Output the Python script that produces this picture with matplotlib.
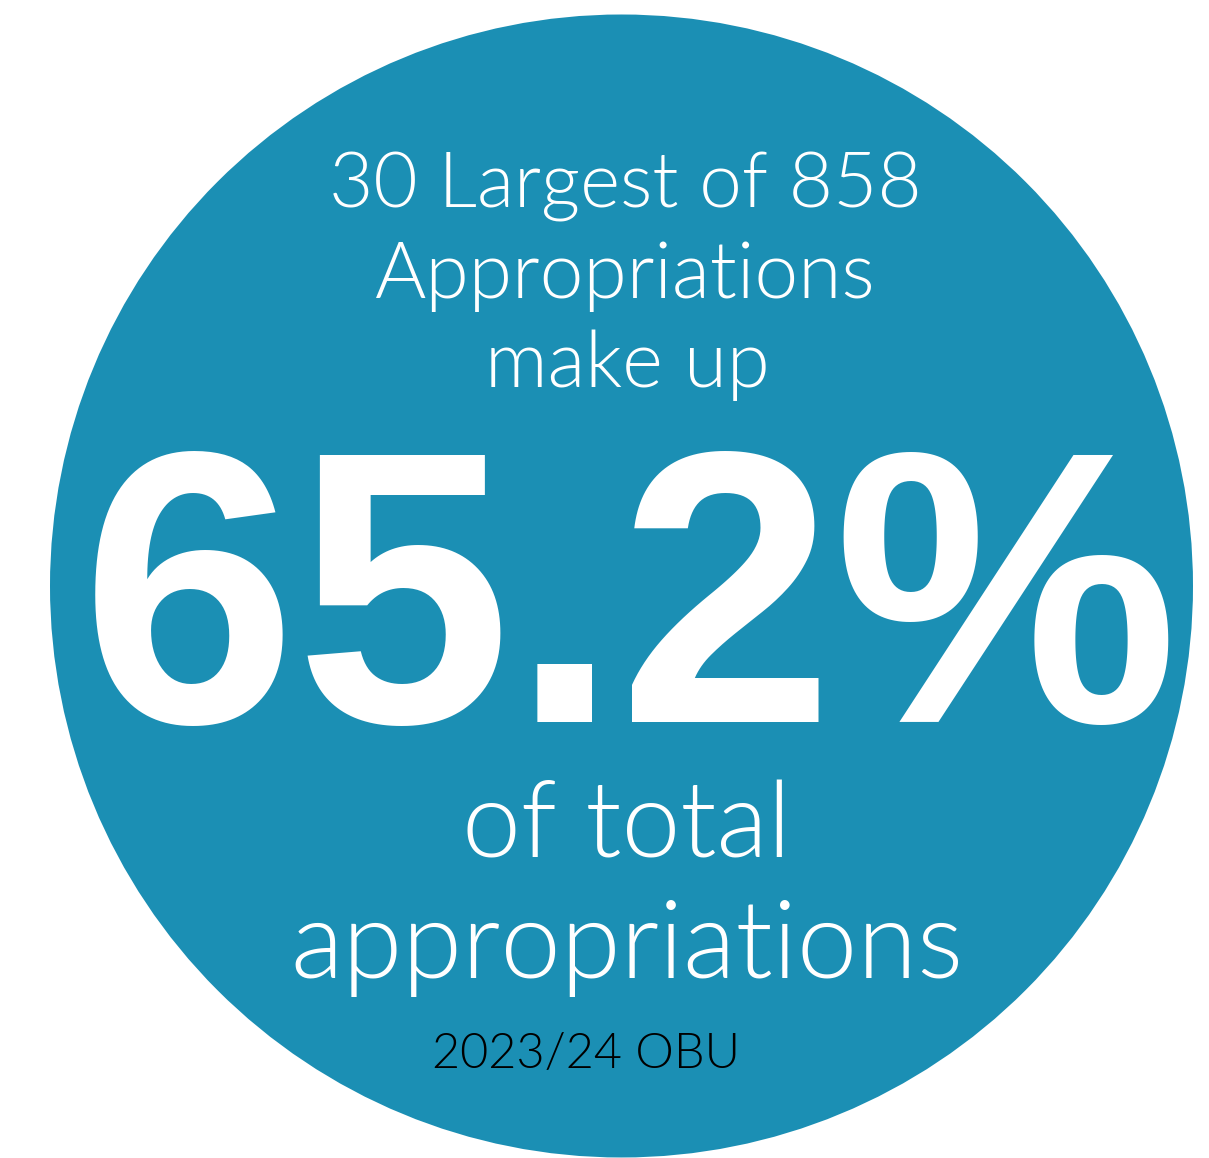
import matplotlib.pyplot as plt
from matplotlib.patches import Circle

# figures shown in the badge
top_n = 30
total_count = 858
share_pct = 65.2
budget_year = "2023/24 OBU"

circle_color = "#1b8fb4"
light_font = ["Lato", "DejaVu Sans"]

fig = plt.figure(figsize=(12.09, 11.58), dpi=100)
ax = fig.add_axes([0, 0, 1, 1])
ax.set_xlim(0, 1209)
ax.set_ylim(1158, 0)
ax.set_aspect("equal")
ax.axis("off")

# big disc, bottom edge touches the border
ax.add_patch(Circle((621.5, 586), 571.5, color=circle_color, lw=0))

# heading lines
ax.text(625, 208, f"{top_n} Largest of {total_count}", color="white", fontsize=55,
        family=light_font, fontweight=300, ha="center", va="baseline")
ax.text(625, 298, "Appropriations", color="white", fontsize=56.5,
        family=light_font, fontweight=300, ha="center", va="baseline")
ax.text(627, 387, "make up", color="white", fontsize=56,
        family=light_font, fontweight=300, ha="center", va="baseline")

# headline number
ax.text(630, 722, f"{share_pct:.1f}%", color="white", fontsize=279,
        family="Liberation Sans", fontweight="bold", ha="center", va="baseline")

ax.text(626, 858, "of total", color="white", fontsize=76,
        family=light_font, fontweight=300, ha="center", va="baseline")
ax.text(627, 978, "appropriations", color="white", fontsize=78,
        family=light_font, fontweight=300, ha="center", va="baseline")

ax.text(586, 1068, budget_year, color="black", fontsize=35,
        family=light_font, fontweight=300, ha="center", va="baseline")

fig.savefig("out.png", dpi=100)
